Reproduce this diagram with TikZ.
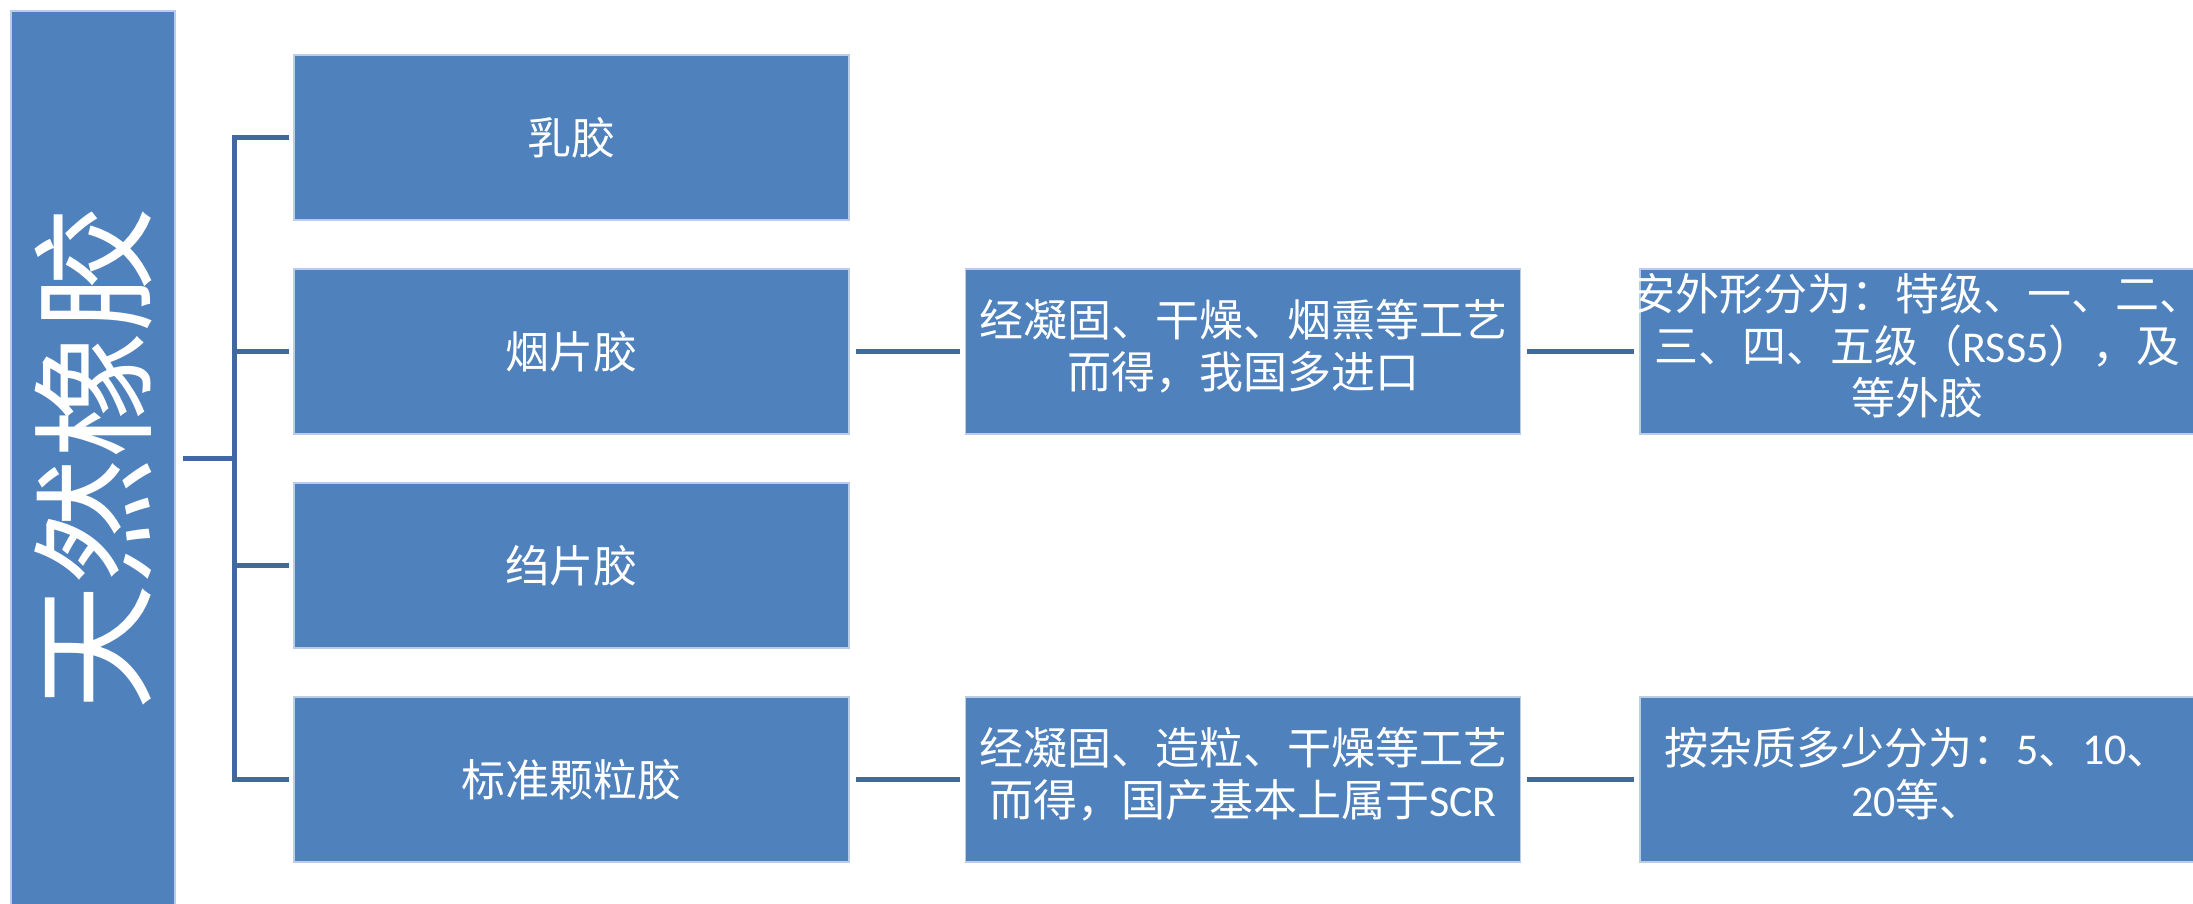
\documentclass[tikz,border=0pt]{standalone}
\usepackage{graphicx}
\usepackage{fontspec}
\setmainfont{Noto Sans CJK SC}
\newfontfamily\lat{Carlito}
\definecolor{boxblue}{HTML}{4F81BD}
\definecolor{boxedge}{HTML}{B9CDE5}
\definecolor{linkblue}{HTML}{41699F}
\begin{document}
\begin{tikzpicture}[x=1pt,y=1pt,
  box/.style={draw=boxedge, line width=1.5pt, fill=boxblue, text=white,
    minimum width=555pt, minimum height=165pt, inner sep=0pt,
    font=\fontsize{44}{49}\selectfont},
  conn/.style={draw=linkblue, line width=5pt}]
\useasboundingbox (0,0) rectangle (2193,-903);
% root
\node[box, minimum width=164pt, minimum height=894pt, font=\fontsize{126}{130}\selectfont]
  (root) at (93,-458) {\rotatebox{90}{天然橡胶}};
% level 1
\node[box] (a) at (571.5,-137.5) {乳胶};
\node[box] (b) at (571.5,-351.5) {烟片胶};
\node[box] (c) at (571.5,-565.5) {绉片胶};
\node[box] (d) at (571.5,-779.5) {标准颗粒胶};
% level 2
\node[box] (b2) at (1243,-351.5) {\makebox[0pt]{\begin{tabular}{@{}c@{}}经凝固、干燥、烟熏等工艺\\而得，我国多进口\end{tabular}}};
\node[box] (d2) at (1243,-779.5) {\makebox[0pt]{\begin{tabular}{@{}c@{}}经凝固、造粒、干燥等工艺\\而得，国产基本上属于{\lat SCR}\end{tabular}}};
% level 3
\node[box] (b3) at (1917.5,-351.5) {\makebox[0pt]{\begin{tabular}{@{}c@{}}安外形分为：特级、一、二、\\三、四、五级（{\lat RSS5}），及\\等外胶\end{tabular}}};
\node[box] (d3) at (1917.5,-779.5) {\makebox[0pt]{\begin{tabular}{@{}c@{}}按杂质多少分为：{\lat 5}、{\lat 10}、\\{\lat 20}等、\end{tabular}}};
% tree connectors
\coordinate (j) at (234,-458);
\draw[conn, shorten <=7pt] (root.east) -- (j);
\draw[conn, shorten <=4pt, shorten >=4pt] (a.west) -- (j |- a.west) -- (j |- d.west) -- (d.west);
\draw[conn, shorten >=4pt] (j |- b.west) -- (b.west);
\draw[conn, shorten >=4pt] (j |- c.west) -- (c.west);
% chain connectors
\draw[conn, shorten <=6pt, shorten >=5pt] (b.east) -- (b2.west);
\draw[conn, shorten <=6pt, shorten >=5pt] (b2.east) -- (b3.west);
\draw[conn, shorten <=6pt, shorten >=5pt] (d.east) -- (d2.west);
\draw[conn, shorten <=6pt, shorten >=5pt] (d2.east) -- (d3.west);
\end{tikzpicture}
\end{document}
